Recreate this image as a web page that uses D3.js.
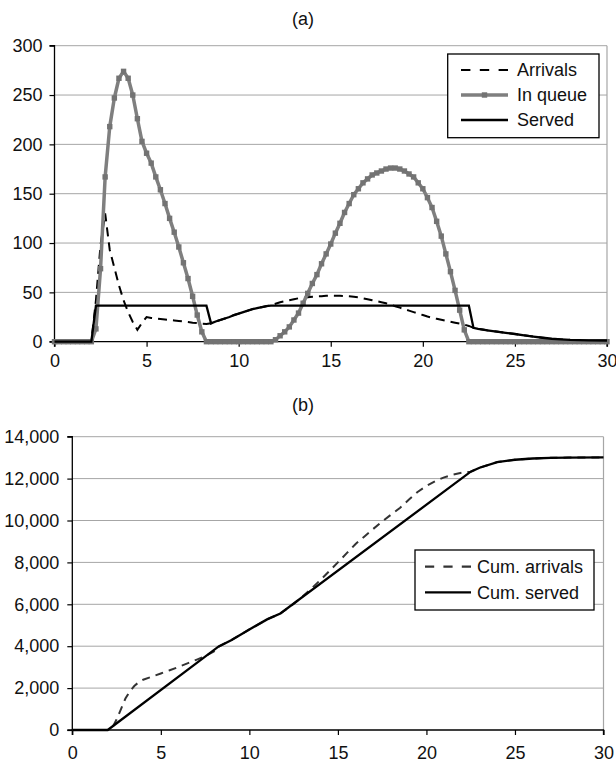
<!DOCTYPE html>
<html>
<head>
<meta charset="utf-8">
<script src="https://cdn.jsdelivr.net/npm/d3@7"></script>
<style>
  body { margin: 0; background: #fff; }
  svg text { font-family: "Liberation Sans", Arial, sans-serif; fill: #111; }
</style>
</head>
<body>
<svg id="chart" width="616" height="763"></svg>
<script>
// panel (a) series: [hour, value]
var arrivals = [
  [0,0],[2,0],[2.25,42],[2.5,98],[2.75,130],[3,93],[3.25,75],[3.5,57],[3.75,42],[4,30],
  [4.25,20],[4.5,12],[4.75,19],[5,25],[5.25,24],[5.5,23.5],[5.75,23],[6,22.5],[6.25,22],
  [6.5,21.5],[6.75,21],[7,20.5],[7.25,20],[7.5,19.3],[7.75,18.8],[8,18.3],[8.25,18],
  [8.5,18.6],[8.75,20.5],[9,22],[9.25,23.5],[9.5,25],[9.75,27],[10,28.5],[10.25,30],
  [10.5,31.5],[10.75,33],[11,34],[11.25,35],[11.5,36],[11.75,37],[12,38.5],[12.25,40],
  [12.5,41],[12.75,42],[13,43],[13.25,44],[13.5,44.5],[13.75,45],[14,45.5],[14.25,46],
  [14.5,46],[14.75,46.5],[15,46.5],[15.25,46.5],[15.5,46.5],[15.75,46.3],[16,46],
  [16.25,45.5],[16.5,45],[16.75,44],[17,43],[17.25,42],[17.5,41],[17.75,40],[18,39],
  [18.25,37.5],[18.5,36],[18.75,34.5],[19,33],[19.25,31.5],[19.5,30],[19.75,28.5],[20,27],
  [20.25,25.5],[20.5,24.3],[20.75,23.2],[21,22.2],[21.25,21.2],[21.5,20.3],[21.75,19.3],
  [22,18.3],[22.25,17.3],[22.5,16],[22.75,14],[23,13],[23.5,11.5],[24,10.3],[24.5,9],
  [25,7.8],[25.5,6.5],[26,5.2],[26.5,4],[27,3],[27.5,2.3],[28,1.8],[29,1.4],[30,1.2]
];

var inQueue = [
  [0,0],[0.25,0],[0.5,0],[0.75,0],[1,0],[1.25,0],[1.5,0],[1.75,0],[2,0],[2.25,13],
  [2.5,74],[2.75,167],[3,218],[3.25,247],[3.5,267],[3.75,274],[4,267],[4.25,250],[4.5,226],
  [4.75,203],[5,191],[5.25,181],[5.5,167],[5.75,154],[6,140],[6.25,125],[6.5,111],[6.75,96],
  [7,80],[7.25,64],[7.5,46],[7.75,27],[8,10],[8.25,0],[8.5,0],[8.75,0],[9,0],[9.25,0],
  [9.5,0],[9.75,0],[10,0],[10.25,0],[10.5,0],[10.75,0],[11,0],[11.25,0],[11.5,0],[11.75,0],
  [12,2],[12.25,6],[12.5,10],[12.75,15],[13,22],[13.25,29],[13.5,39],[13.75,49],[14,59],
  [14.25,68],[14.5,79],[14.75,89],[15,99],[15.25,110],[15.5,120],[15.75,131],[16,140],
  [16.25,149],[16.5,155],[16.75,161],[17,165],[17.25,169],[17.5,171],[17.75,173],[18,175],
  [18.25,176],[18.5,176],[18.75,175],[19,173],[19.25,170],[19.5,167],[19.75,161],[20,155],
  [20.25,146],[20.5,136],[20.75,122],[21,107],[21.25,89],[21.5,71],[21.75,52],[22,32],
  [22.25,12],[22.5,0],[22.75,0],[23,0],[23.25,0],[23.5,0],[23.75,0],[24,0],[24.25,0],
  [24.5,0],[24.75,0],[25,0],[25.25,0],[25.5,0],[25.75,0],[26,0],[26.25,0],[26.5,0],
  [26.75,0],[27,0],[27.25,0],[27.5,0],[27.75,0],[28,0],[28.25,0],[28.5,0],[28.75,0],
  [29,0],[29.25,0],[29.5,0],[29.75,0],[30,0]
];

var served = [
  [0,0],[2,0],[2.25,36.5],[8.25,36.5],[8.5,18.6],[8.75,20.5],[9,22],[9.25,23.5],[9.5,25],
  [9.75,27],[10,28.5],[10.25,30],[10.5,31.5],[10.75,33],[11,34],[11.25,35],[11.5,36],
  [11.75,36.5],[22.5,36.5],[22.75,14],[23,13],[23.5,11.5],[24,10.3],[24.5,9],[25,7.8],
  [25.5,6.5],[26,5.2],[26.5,4],[27,3],[27.5,2.3],[28,1.8],[29,1.4],[30,1.2]
];

// panel (b) series
var cumArrivals = [
  [0,0],[2,0],[2.25,100],[2.5,500],[2.75,1000],[3,1500],[3.25,1850],[3.5,2100],[3.75,2280],
  [4,2400],[4.5,2550],[5,2700],[5.5,2850],[6,3010],[6.5,3180],[7,3350],[7.5,3530],[8,3750],
  [8.25,3980],[9,4300],[10,4800],[11,5280],[11.75,5560],[12.5,6020],[13,6370],[13.5,6750],
  [14,7150],[14.5,7570],[15,8000],[15.5,8440],[16,8880],[16.5,9240],[17,9600],[17.5,9950],
  [18,10280],[18.5,10600],[19,10990],[19.5,11360],[20,11650],[20.5,11880],[21,12060],
  [21.5,12190],[22,12280],[22.5,12330],[23,12520],[24,12790],[25,12900],[26,12960],
  [27,12990],[28,13005],[30,13010]
];

var cumServed = [
  [0,0],[2,0],[8.25,3980],[9,4300],[10,4800],[11,5280],[11.75,5560],[22.5,12330],
  [23,12520],[24,12790],[25,12900],[26,12960],[27,12990],[28,13005],[30,13010]
];

var xTicks = [0, 5, 10, 15, 20, 25, 30];
var yTicksA = [0, 50, 100, 150, 200, 250, 300];
var yTicksB = [0, 2000, 4000, 6000, 8000, 10000, 12000, 14000];

var svg = d3.select("#chart");
svg.append("rect").attr("width", 616).attr("height", 763).attr("fill", "#fff");

function drawPanel(opt) {
    var x = d3.scaleLinear().domain([0, 30]).range([opt.left, opt.right]);
    var y = d3.scaleLinear().domain([0, opt.yMax]).range([opt.bottom, opt.top]);
    var g = svg.append("g");

    // title
    g.append("text")
        .attr("x", 303).attr("y", opt.titleY).attr("dy", "0.35em")
        .attr("text-anchor", "middle")
        .style("font-size", "18px")
        .text(opt.title);

    // grid lines
    g.append("g").selectAll("line")
        .data(opt.yTicks.filter(function (d) { return d > 0; }))
        .join("line")
        .attr("x1", opt.left).attr("x2", opt.right)
        .attr("y1", function (d) { return y(d); })
        .attr("y2", function (d) { return y(d); })
        .attr("stroke", "#a6a6a6").attr("stroke-width", 1);

    // right border
    g.append("line")
        .attr("x1", opt.right).attr("x2", opt.right)
        .attr("y1", opt.top).attr("y2", opt.bottom)
        .attr("stroke", "#a6a6a6").attr("stroke-width", 1.2);

    var yAxis = g.append("g")
        .attr("transform", "translate(" + opt.left + ",0)")
        .call(d3.axisLeft(y).tickValues(opt.yTicks).tickSize(5).tickPadding(opt.yPad)
            .tickFormat(opt.yFormat));
    var xAxis = g.append("g")
        .attr("transform", "translate(0," + opt.bottom + ")")
        .call(d3.axisBottom(x).tickValues(xTicks).tickSize(5).tickPadding(opt.xPad)
            .tickFormat(d3.format("d")));

    [yAxis, xAxis].forEach(function (a) {
        a.select(".domain").attr("stroke", "#000").attr("stroke-width", 1.3);
        a.selectAll(".tick line").attr("stroke", "#000").attr("stroke-width", 1.2);
        a.selectAll(".tick text").style("font-size", "18px")
            .style("font-family", "'Liberation Sans', Arial, sans-serif").attr("fill", "#111");
    });
    // no end ticks drawn outside the domain path
    yAxis.select(".domain").attr("d", "M-5," + opt.bottom + "H0V" + opt.top + "H-5");
    xAxis.select(".domain").attr("d", "M" + opt.left + ",5V0H" + opt.right + "V5");

    var line = d3.line()
        .x(function (d) { return x(d[0]); })
        .y(function (d) { return y(d[1]); });

    return { g: g, x: x, y: y, line: line };
}

// ---- panel (a)
var pa = drawPanel({
    left: 54.5, right: 607, top: 45.7, bottom: 341.7, yMax: 300,
    yTicks: yTicksA, yPad: 7, xPad: 8, yFormat: d3.format("d"),
    title: "(a)", titleY: 19
});

pa.g.append("path").datum(arrivals)
    .attr("d", pa.line).attr("fill", "none")
    .attr("stroke", "#000").attr("stroke-width", 2).attr("stroke-dasharray", "9,6");

pa.g.append("path").datum(inQueue)
    .attr("d", pa.line).attr("fill", "none")
    .attr("stroke", "#7f7f7f").attr("stroke-width", 3.5).attr("stroke-linejoin", "round");

pa.g.append("g").selectAll("rect")
    .data(inQueue)
    .join("rect")
    .attr("x", function (d) { return pa.x(d[0]) - 2.7; })
    .attr("y", function (d) { return pa.y(d[1]) - 2.7; })
    .attr("width", 5.4).attr("height", 5.4)
    .attr("fill", "#737373");

pa.g.append("path").datum(served)
    .attr("d", pa.line).attr("fill", "none")
    .attr("stroke", "#000").attr("stroke-width", 2.3);

// legend (a)
var legA = pa.g.append("g");
legA.append("rect")
    .attr("x", 447.7).attr("y", 54).attr("width", 151.3).attr("height", 83.7)
    .attr("fill", "#fff").attr("stroke", "#000").attr("stroke-width", 1.3);
var legItemsA = [
    { name: "Arrivals", color: "#000", width: 2, dash: "9.4,9.4", marker: false },
    { name: "In queue", color: "#7f7f7f", width: 3.5, dash: null, marker: true },
    { name: "Served", color: "#000", width: 2.3, dash: null, marker: false }
];
legItemsA.forEach(function (it, i) {
    var cy = 70 + i * 25;
    legA.append("line")
        .attr("x1", 461).attr("x2", 508).attr("y1", cy).attr("y2", cy)
        .attr("stroke", it.color).attr("stroke-width", it.width)
        .attr("stroke-dasharray", it.dash);
    if (it.marker) {
        legA.append("rect").attr("x", 481.8).attr("y", cy - 2.7)
            .attr("width", 5.4).attr("height", 5.4).attr("fill", "#737373");
    }
    legA.append("text")
        .attr("x", 517).attr("y", cy).attr("dy", "0.35em")
        .style("font-size", "18px").text(it.name);
});

// ---- panel (b)
var pb = drawPanel({
    left: 72.3, right: 603.5, top: 436.7, bottom: 730, yMax: 14000,
    yTicks: yTicksB, yPad: 8, xPad: 11.5, yFormat: d3.format(","),
    title: "(b)", titleY: 405
});

pb.g.append("path").datum(cumArrivals)
    .attr("d", pb.line).attr("fill", "none")
    .attr("stroke", "#333").attr("stroke-width", 2).attr("stroke-dasharray", "8,6");

pb.g.append("path").datum(cumServed)
    .attr("d", pb.line).attr("fill", "none")
    .attr("stroke", "#000").attr("stroke-width", 2.3);

// legend (b)
var legB = pb.g.append("g");
legB.append("rect")
    .attr("x", 415).attr("y", 550).attr("width", 179).attr("height", 60)
    .attr("fill", "#fff").attr("stroke", "#000").attr("stroke-width", 1.3);
var legItemsB = [
    { name: "Cum. arrivals", color: "#333", dash: "9.2,9.2" },
    { name: "Cum. served", color: "#000", dash: null }
];
legItemsB.forEach(function (it, i) {
    var cy = 566.7 + i * 25.6;
    legB.append("line")
        .attr("x1", 425).attr("x2", 471).attr("y1", cy).attr("y2", cy)
        .attr("stroke", it.color).attr("stroke-width", 2.2)
        .attr("stroke-dasharray", it.dash);
    legB.append("text")
        .attr("x", 477).attr("y", cy).attr("dy", "0.35em")
        .style("font-size", "18px").text(it.name);
});
</script>
</body>
</html>
